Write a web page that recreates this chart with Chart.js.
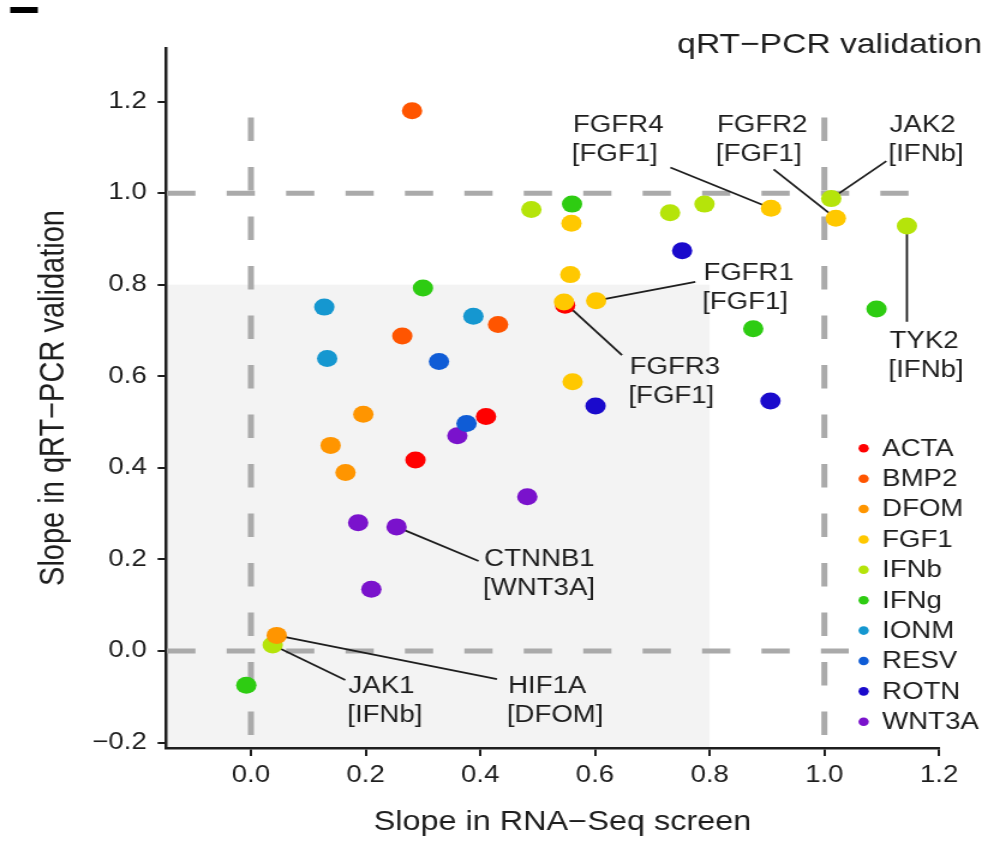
<!DOCTYPE html>
<html>
<head>
<meta charset="utf-8">
<script src="https://cdn.jsdelivr.net/npm/chart.js@4.4.1/dist/chart.umd.min.js"></script>
<style>
  html, body { margin: 0; padding: 0; background: #fff; overflow: hidden; }
  /* the reference figure is stretched ~1.2x horizontally, so is this one */
  #wrap { width: 823px; height: 841px; transform: scaleX(1.2005); transform-origin: 0 0; }
</style>
</head>
<body>
<div id="wrap"><canvas id="chart" width="823" height="841"></canvas></div>
<script>
// treatments, legend order
const treatments = ['ACTA', 'BMP2', 'DFOM', 'FGF1', 'IFNb', 'IFNg', 'IONM', 'RESV', 'ROTN', 'WNT3A'];
const colors = ['#FF0000', '#FF5500', '#FF9500', '#FFC800', '#B5E40A', '#2ECC12', '#1597D0', '#0F5CD6', '#1A0ACC', '#7A12CC'];

// slope in RNA-Seq screen (x) / slope in qRT-PCR validation (y), per treatment
const actaX = [0.548, 0.410, 0.287];
const actaY = [0.755, 0.512, 0.417];
const bmp2X = [0.281, 0.431, 0.264];
const bmp2Y = [1.180, 0.713, 0.688];
const dfomX = [0.196, 0.139, 0.165, 0.045];
const dfomY = [0.517, 0.449, 0.390, 0.034];
const fgf1X = [0.559, 0.907, 1.020, 0.557, 0.546, 0.602, 0.561];
const fgf1Y = [0.934, 0.967, 0.945, 0.822, 0.762, 0.765, 0.588];
const ifnbX = [0.489, 0.731, 0.791, 1.012, 1.144, 0.038];
const ifnbY = [0.964, 0.957, 0.976, 0.988, 0.928, 0.013];
const ifngX = [0.560, 0.300, 1.091, 0.876, -0.008];
const ifngY = [0.976, 0.793, 0.747, 0.704, -0.075];
const ionmX = [0.128, 0.388, 0.133];
const ionmY = [0.751, 0.731, 0.639];
const resvX = [0.328, 0.376];
const resvY = [0.632, 0.497];
const rotnX = [0.752, 0.601, 0.906];
const rotnY = [0.874, 0.535, 0.546];
const wnt3aX = [0.360, 0.482, 0.187, 0.254, 0.210];
const wnt3aY = [0.470, 0.337, 0.280, 0.271, 0.135];

const seriesX = [actaX, bmp2X, dfomX, fgf1X, ifnbX, ifngX, ionmX, resvX, rotnX, wnt3aX];
const seriesY = [actaY, bmp2Y, dfomY, fgf1Y, ifnbY, ifngY, ionmY, resvY, rotnY, wnt3aY];

// axes
const xTicks = [0, 0.2, 0.4, 0.6, 0.8, 1.0, 1.2];
const xTickLabels = ['0.0', '0.2', '0.4', '0.6', '0.8', '1.0', '1.2'];
const yTicks = [-0.2, 0, 0.2, 0.4, 0.6, 0.8, 1.0, 1.2];
const yTickLabels = ['\u22120.2', '0.0', '0.2', '0.4', '0.6', '0.8', '1.0', '1.2'];
const xMin = -0.148, xMax = 1.2;
const yMin = -0.212, yMax = 1.317;

// reference lines and shaded region
const refLines = [0, 1];
const refEnd = 1.165;
const shadeMax = 0.8;

// labelled genes: point (treatment, index), leader start, label position (left, first line)
const callouts = [
  { gene: 'FGFR4', t: 'FGF1', i: 1, from: [0.7315, 1.056], at: [0.5617, 1.152] },
  { gene: 'FGFR2', t: 'FGF1', i: 2, from: [0.9116, 1.052], at: [0.8128, 1.152] },
  { gene: 'JAK2', t: 'IFNb', i: 3, from: [1.1081, 1.070], at: [1.1139, 1.152] },
  { gene: 'FGFR1', t: 'FGF1', i: 5, from: [0.775, 0.806], at: [0.789, 0.8286] },
  { gene: 'FGFR3', t: 'FGF1', i: 4, from: [0.6471, 0.646], at: [0.6604, 0.6223] },
  { gene: 'TYK2', t: 'IFNb', i: 4, from: [1.144, 0.719], at: [1.1139, 0.679] },
  { gene: 'CTNNB1', t: 'WNT3A', i: 3, from: [0.397, 0.1965], at: [0.4069, 0.2024] },
  { gene: 'JAK1', t: 'IFNb', i: 5, from: [0.1645, -0.0633], at: [0.1702, -0.0742] },
  { gene: 'HIF1A', t: 'DFOM', i: 3, from: [0.4291, -0.0618], at: [0.4483, -0.0742] }
];

const FONT = '"Liberation Sans", Arial, Helvetica, sans-serif';
const INK = '#1e1e1e';

const datasets = treatments.map((name, k) => ({
  label: name,
  data: seriesX[k].map((x, j) => ({ x: x, y: seriesY[k][j] })),
  backgroundColor: colors[k],
  borderWidth: 0,
  pointRadius: 8.5,
  pointHoverRadius: 8.5,
  order: name === 'ACTA' ? 1 : 0
}));

const decorations = {
  id: 'decorations',
  beforeDraw(chart) {
    const { ctx, chartArea, scales: { x, y } } = chart;
    ctx.save();
    ctx.fillStyle = '#f3f3f3';
    const r = x.getPixelForValue(shadeMax);
    const t = y.getPixelForValue(shadeMax);
    ctx.fillRect(chartArea.left, t, r - chartArea.left, chartArea.bottom - t);
    ctx.restore();
  },
  beforeDatasetsDraw(chart) {
    const { ctx, chartArea, scales: { x, y } } = chart;
    ctx.save();
    ctx.strokeStyle = '#aaaaaa';
    ctx.lineWidth = 5;
    ctx.setLineDash([23.5, 26]);
    refLines.forEach(v => {
      // horizontal
      ctx.beginPath();
      ctx.moveTo(chartArea.left + 1, y.getPixelForValue(v));
      ctx.lineTo(x.getPixelForValue(refEnd), y.getPixelForValue(v));
      ctx.stroke();
      // vertical
      ctx.beginPath();
      ctx.moveTo(x.getPixelForValue(v), y.getPixelForValue(refEnd));
      ctx.lineTo(x.getPixelForValue(v), chartArea.bottom - 1);
      ctx.stroke();
    });
    ctx.setLineDash([]);

    // leader lines
    ctx.strokeStyle = INK;
    ctx.lineWidth = 1.8;
    callouts.forEach(c => {
      const pt = chart.getDatasetMeta(treatments.indexOf(c.t)).data[c.i];
      ctx.beginPath();
      ctx.moveTo(x.getPixelForValue(c.from[0]), y.getPixelForValue(c.from[1]));
      ctx.lineTo(pt.x, pt.y);
      ctx.stroke();
    });
    ctx.restore();
  },
  afterDraw(chart) {
    const { ctx, scales: { x, y } } = chart;
    ctx.save();
    ctx.fillStyle = INK;

    // gene labels
    ctx.font = '23px ' + FONT;
    ctx.textAlign = 'left';
    ctx.textBaseline = 'alphabetic';
    callouts.forEach(c => {
      const lx = x.getPixelForValue(c.at[0]);
      const ly = y.getPixelForValue(c.at[1]) + 8.2;
      ctx.fillText(c.gene, lx, ly);
      ctx.fillText('[' + c.t + ']', lx - 1, ly + 29);
    });

    // legend
    ctx.fillStyle = '#fff';
    ctx.fillRect(707, 430, 116, 310);
    ctx.font = '23px ' + FONT;
    ctx.textBaseline = 'middle';
    treatments.forEach((name, k) => {
      const cy = 448.3 + 30.38 * k;
      ctx.fillStyle = colors[k];
      ctx.beginPath();
      ctx.arc(719.4, cy, 4.3, 0, Math.PI * 2);
      ctx.fill();
      ctx.fillStyle = INK;
      ctx.fillText(name, 734.8, cy + 1);
    });

    // x axis title (sits a little right of the axis centre in the figure)
    ctx.font = '27px ' + FONT;
    ctx.textAlign = 'center';
    ctx.textBaseline = 'middle';
    ctx.fillText('Slope in RNA\u2212Seq screen', 468.5, 823);

    // panel title
    ctx.font = '28px ' + FONT;
    ctx.textAlign = 'right';
    ctx.textBaseline = 'alphabetic';
    ctx.fillText('qRT\u2212PCR validation', 818, 53);

    // panel mark, top left
    ctx.fillStyle = '#000';
    ctx.fillRect(8.5, 7, 23, 6);
    ctx.restore();
  }
};

new Chart(document.getElementById('chart'), {
  type: 'scatter',
  data: { datasets: datasets },
  options: {
    responsive: false,
    animation: false,
    devicePixelRatio: 1,
    layout: { padding: { top: 48, right: 40.8, left: 0, bottom: 0 } },
    plugins: {
      legend: { display: false },
      tooltip: { enabled: false }
    },
    scales: {
      x: {
        type: 'linear',
        min: xMin,
        max: xMax,
        afterBuildTicks: s => { s.ticks = xTicks.map(v => ({ value: v })); },
        afterFit: s => { s.height = 93; },
        ticks: {
          callback: (v, i) => xTickLabels[i],
          autoSkip: false,
          maxRotation: 0,
          padding: 6,
          color: INK,
          font: { family: FONT, size: 23 }
        },
        grid: { drawOnChartArea: false, drawTicks: true, tickLength: 8, color: INK, lineWidth: 2 },
        border: { display: true, color: INK, width: 2.5 }
      },
      y: {
        type: 'linear',
        min: yMin,
        max: yMax,
        afterBuildTicks: s => { s.ticks = yTicks.map(v => ({ value: v })); },
        afterFit: s => { s.width = 138.3; },
        ticks: {
          callback: (v, i) => yTickLabels[i],
          autoSkip: false,
          padding: 9,
          color: INK,
          font: { family: FONT, size: 23 }
        },
        grid: { drawOnChartArea: false, drawTicks: true, tickLength: 7, color: INK, lineWidth: 2 },
        border: { display: true, color: INK, width: 2.5 },
        title: {
          display: true,
          text: 'Slope in qRT\u2212PCR validation',
          color: INK,
          font: { family: FONT, size: 29 },
          padding: { top: 28, bottom: 0 }
        }
      }
    }
  },
  plugins: [decorations]
});
</script>
</body>
</html>
